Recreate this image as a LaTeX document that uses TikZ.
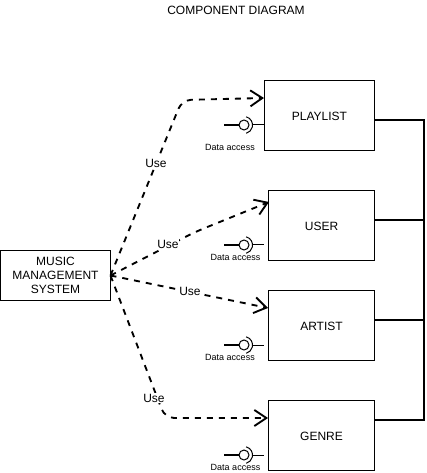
\documentclass[tikz,border=0pt]{standalone}
\usepackage{fontspec}
\setmainfont{Liberation Sans}
\usetikzlibrary{arrows.meta}
\tikzset{
  box/.style={draw,line width=0.75pt,fill=white,inner sep=0pt,outer sep=0pt,align=center,font=\fontsize{9}{10.5}\selectfont,anchor=north west},
  oneline/.style={text height=7pt,text depth=0pt},
  use/.style={draw,line width=1.4pt,dash pattern=on 4.5pt off 4.5pt,rounded corners=7pt,-{Straight Barb[length=9pt,width=12pt,line width=1.4pt]}},
  bus/.style={line width=1.5pt},
  lbl/.style={font=\fontsize{9}{11}\selectfont,inner sep=0.5pt,fill=white},
  small/.style={font=\fontsize{6.75}{8}\selectfont,inner sep=0pt},
  ball/.style={circle,draw,line width=0.75pt,minimum size=7.5pt,inner sep=0pt,outer sep=0pt},
  stem/.style={line width=1.4pt},
  thinstem/.style={line width=0.75pt},
  socket/.style={line width=0.75pt},
}
\begin{document}
\begin{tikzpicture}[x=0.75pt,y=-0.75pt]
\useasboundingbox (0,0) rectangle (426,473);
\node[font=\fontsize{9}{11}\selectfont] (title) at (236,10) {COMPONENT DIAGRAM};
% bus
\coordinate (b1) at (424,120);
\coordinate (b2) at (424,220);
\coordinate (b3) at (424,320);
\coordinate (b4) at (424,420);
% boxes
\node[box,oneline,minimum width=82.5pt,minimum height=52.5pt] (playlist) at (264.5,80.5) {PLAYLIST};
\node[box,oneline,minimum width=79.5pt,minimum height=52.5pt] (user) at (268.5,190.5) {USER};
\node[box,oneline,minimum width=79.5pt,minimum height=52.5pt] (artist) at (268.5,290.5) {ARTIST};
\node[box,oneline,minimum width=79.5pt,minimum height=52.5pt] (genre) at (268.5,400.5) {GENRE};
\node[box,minimum width=82.5pt,minimum height=37.5pt,text width=80pt] (mms) at (0.5,250.5) {MUSIC\\MANAGEMENT\\SYSTEM};
% bus lines
\draw[bus] (playlist.east |- b1) -- (b1) -- (b4) -- (genre.east |- b4);
\draw[bus] (user.east |- b2) -- (b2);
\draw[bus] (artist.east |- b3) -- (b3);
% dependency connectors
\coordinate (p1) at (264,98);
\coordinate (p2) at (269,202);
\coordinate (p3) at (268,308);
\coordinate (p4) at (268,418);
\draw[use] (mms.east) -- (182,100) -- (p1);
\draw[use] (mms.east) -- (195,232) -- (p2);
\draw[use] (mms.east) -- (p3);
\draw[use] (mms.east) -- (165,418) -- (p4);
\node[lbl] (u1) at (156,163) {Use};
\node[lbl] (u2) at (168,244) {Use};
\node[lbl] (u3) at (190,291) {Use};
\node[lbl] (u4) at (154,398) {Use};
% interfaces
\foreach \n/\y/\bx in {a/125/264,b/245/264,c/345/264,d/455/264}{
  \node[ball] (ball\n) at (244,\y) {};
  \coordinate (in\n) at (224,\y);
  \coordinate (out\n) at (\bx,\y);
  \draw[stem] (in\n) -- (ball\n);
  \draw[thinstem] (252.5,\y) -- (out\n);
  \draw[socket] (246.2,\y-8.2) arc[start angle=75,end angle=-75,radius=6.4pt];
}
\node[small] (d1) at (230,147) {Data access};
\node[small] (d2) at (235.5,257) {Data access};
\node[small] (d3) at (230,357) {Data access};
\node[small] (d4) at (235.5,467) {Data access};
\end{tikzpicture}
\end{document}
